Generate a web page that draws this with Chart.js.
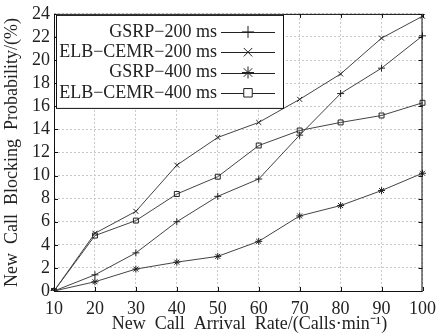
<!DOCTYPE html>
<html>
<head>
<meta charset="utf-8">
<script src="https://cdn.jsdelivr.net/npm/chart.js@4"></script>
<style>
  html, body { margin: 0; padding: 0; background: #fff; }
  #wrap { width: 443px; height: 335px; }
</style>
</head>
<body>
<div id="wrap"><canvas id="lineChart"></canvas></div>
<script>
const arrivalRates = [10, 20, 30, 40, 50, 60, 70, 80, 90, 100];
const gsrp200 = [0, 1.4, 3.3, 6.0, 8.2, 9.7, 13.5, 17.1, 19.3, 22.1];
const elb200  = [0, 5.0, 6.9, 10.9, 13.3, 14.6, 16.6, 18.8, 21.9, 23.8];
const gsrp400 = [0, 0.8, 1.9, 2.5, 3.0, 4.3, 6.5, 7.4, 8.7, 10.2];
const elb400  = [0, 4.8, 6.1, 8.4, 9.9, 12.6, 13.9, 14.6, 15.2, 16.3];
const seriesNames = ['GSRP\u2212200 ms', 'ELB\u2212CEMR\u2212200 ms', 'GSRP\u2212400 ms', 'ELB\u2212CEMR\u2212400 ms'];
const markers = ['cross', 'crossRot', 'star', 'rect'];
const yTicks = [0, 2, 4, 6, 8, 10, 12, 14, 16, 18, 20, 22, 24];

const serif = 'Liberation Serif';
const ink = '#222';

function makeSet(i, values) {
  return {
    label: seriesNames[i],
    data: values,
    borderColor: '#444',
    borderWidth: 1,
    pointStyle: markers[i],
    pointRadius: 3.5,
    pointBorderColor: '#222',
    pointBackgroundColor: 'rgba(0,0,0,0)',
    pointBorderWidth: 1,
    tension: 0
  };
}

// box round the plot, inner ticks, and the boxed legend top-left
const frame = {
  id: 'frame',
  afterDraw(chart) {
    const c = chart.ctx, a = chart.chartArea;
    const xs = chart.scales.x, ys = chart.scales.y;
    c.save();
    c.strokeStyle = '#111';
    c.lineWidth = 1;
    c.strokeRect(a.left + 0.5, a.top + 0.5, a.right - a.left - 1, a.bottom - a.top);
    c.beginPath();
    yTicks.forEach(v => {
      const y = Math.round(ys.getPixelForValue(v)) + 0.5;
      c.moveTo(a.left, y); c.lineTo(a.left + 4, y);
      c.moveTo(a.right, y); c.lineTo(a.right - 4, y);
    });
    arrivalRates.forEach((v, i) => {
      const x = Math.round(xs.getPixelForValue(i)) + 0.5;
      c.moveTo(x, a.bottom); c.lineTo(x, a.bottom - 4);
      c.moveTo(x, a.top); c.lineTo(x, a.top + 4);
    });
    c.stroke();

    // legend
    const lx = a.left + 2, ly = a.top + 1, lw = 227, lh = 93;
    c.fillStyle = '#fff';
    c.fillRect(lx, ly, lw, lh);
    c.strokeStyle = '#111';
    c.strokeRect(lx + 0.5, ly + 0.5, lw, lh);
    c.font = '18px "' + serif + '"';
    c.textAlign = 'right';
    c.textBaseline = 'middle';
    chart.data.datasets.forEach((ds, i) => {
      const y = ly + 17 + i * 20.3;
      c.fillStyle = ink;
      c.fillText(ds.label, lx + 161, y);
      c.strokeStyle = '#222';
      c.beginPath();
      c.moveTo(lx + 165, Math.round(y) + 0.5);
      c.lineTo(lx + 219, Math.round(y) + 0.5);
      c.stroke();
      c.fillStyle = '#fff';
      Chart.helpers.drawPoint(c, { pointStyle: ds.pointStyle, radius: 6, rotation: 0, borderWidth: 1.2 }, lx + 192, y);
    });
    c.restore();
  }
};

new Chart(document.getElementById('lineChart'), {
  type: 'line',
  data: {
    labels: arrivalRates,
    datasets: [makeSet(0, gsrp200), makeSet(1, elb200), makeSet(2, gsrp400), makeSet(3, elb400)]
  },
  options: {
    responsive: true,
    maintainAspectRatio: false,
    animation: false,
    layout: { padding: { top: 0, right: 18, left: 0, bottom: 0 } },
    plugins: { legend: { display: false }, tooltip: { enabled: false } },
    scales: {
      x: {
        grid: { color: '#c8c8c8', drawTicks: false },
        border: { display: false, dash: [2, 2] },
        ticks: { color: ink, font: { family: serif, size: 18 }, padding: 7, maxRotation: 0, autoSkip: false },
        title: { display: true, text: '     New  Call  Arrival  Rate/(Calls\u00b7min\u207b\u00b9)', color: ink,
                 font: { family: serif, size: 18 }, padding: { top: 0, bottom: 0 } },
        afterFit(s) { s.height = 44; }
      },
      y: {
        min: 0, max: 24,
        grid: { color: '#c8c8c8', drawTicks: false },
        border: { display: false, dash: [2, 2] },
        ticks: { color: ink, font: { family: serif, size: 18, lineHeight: 1.1 }, padding: 4, stepSize: 2, autoSkip: false },
        title: { display: true, text: 'New  Call  Blocking  Probability/(%)', color: ink,
                 font: { family: serif, size: 18 }, padding: { top: 1, bottom: 0 } },
        afterFit(s) { s.width = 54; }
      }
    }
  },
  plugins: [frame]
});
</script>
</body>
</html>
